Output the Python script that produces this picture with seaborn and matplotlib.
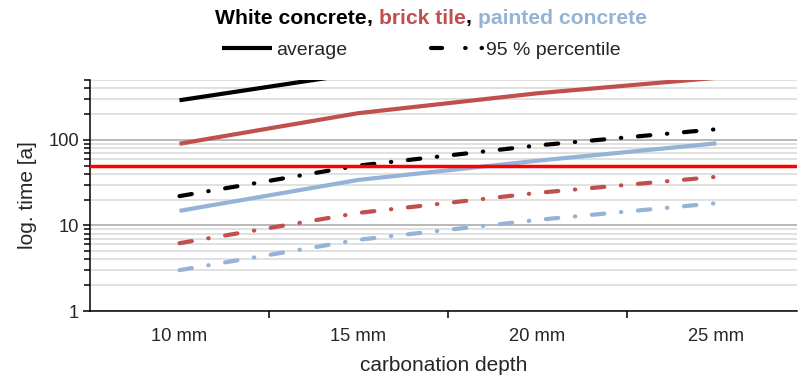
import numpy as np
import pandas as pd
import seaborn as sns
import matplotlib
matplotlib.use("Agg")
import matplotlib.pyplot as plt
from matplotlib.ticker import LogLocator, NullFormatter, FixedLocator, FixedFormatter
from matplotlib.lines import Line2D

# ---- data ----
depths = ["10 mm", "15 mm", "20 mm", "25 mm"]
white_avg = [290, 600, 1100, 1800]
white_p95 = [22, 50, 86, 133]
brick_avg = [90, 205, 350, 530]
brick_p95 = [6.2, 14, 24, 37]
painted_avg = [14.8, 34, 57, 91]
painted_p95 = [3.0, 6.8, 11.6, 18.2]
limit_value = 50

title_parts = ["White concrete", ", ", "brick tile", ", ", "painted concrete"]
title_colors = ["black", "black", "#C0504D", "black", "#95B3D7"]
legend_labels = ["average", "95 % percentile"]
xlabel = "carbonation depth"
ylabel = "log. time [a]"

sns.set_style("white")
plt.rcParams["font.family"] = ["Liberation Sans", "DejaVu Sans"]
plt.rcParams["lines.scale_dashes"] = False

fig = plt.figure(figsize=(7.99, 3.76), dpi=100)
ax = fig.add_axes([90 / 799, 1 - 311 / 376, 707 / 799, 231 / 376])

series = [
    (white_avg, "black", "solid"),
    (brick_avg, "#C0504D", "solid"),
    (painted_avg, "#95B3D7", "solid"),
    (white_p95, "black", "dashdot"),
    (brick_p95, "#C0504D", "dashdot"),
    (painted_p95, "#95B3D7", "dashdot"),
]
dashpat = (9, 12, 0.3, 12)
for vals, col, st in series:
    df = pd.DataFrame({"depth": depths, "time": vals})
    sns.lineplot(data=df, x="depth", y="time", ax=ax, color=col, linewidth=3, sort=False)
    line = ax.lines[-1]
    line.set_solid_capstyle("butt")
    if st == "dashdot":
        line.set_dashes(dashpat)
        line.set_dash_capstyle("round")

ax.axhline(limit_value, color="#FF0000", linewidth=2.5, zorder=3)

ax.set_yscale("log")
ax.set_ylim(1, 500)
ax.set_xlim(-0.5, 3.45)

ax.yaxis.set_major_locator(FixedLocator([1, 10, 100]))
ax.yaxis.set_major_formatter(FixedFormatter(["1", "10", "100"]))
ax.yaxis.set_minor_locator(LogLocator(base=10, subs=np.arange(2, 10), numticks=20))
ax.yaxis.set_minor_formatter(NullFormatter())
ax.grid(True, which="major", axis="y", color="#A6A6A6", linewidth=1.1, zorder=0)
ax.grid(True, which="minor", axis="y", color="#D9D9D9", linewidth=1.1, zorder=0)
ax.set_axisbelow(True)

ax.set_xticks([0, 1, 2, 3])
ax.set_xticklabels(depths)
ax.set_xticks([0.5, 1.5, 2.5], minor=True)
ax.tick_params(axis="x", which="major", length=0, pad=12, labelsize=13.2)
ax.tick_params(axis="x", which="minor", length=5, width=1.1, color="black", direction="out", bottom=True)
ax.tick_params(axis="y", which="major", length=5, width=1.1, color="black", direction="out", left=True,
               labelsize=13.2, pad=3)
ax.tick_params(axis="y", which="minor", length=4, width=1.1, color="black", direction="out", left=True)

for s in ["top", "right"]:
    ax.spines[s].set_visible(False)
for s in ["left", "bottom"]:
    ax.spines[s].set_color("black")
    ax.spines[s].set_linewidth(1.1)

ax.set_xlabel(xlabel, fontsize=15, labelpad=8)
ax.set_ylabel(ylabel, fontsize=15, labelpad=8)

# legend
h1 = Line2D([], [], color="black", linewidth=3, solid_capstyle="butt")
h2 = Line2D([], [], color="black", linewidth=3, dashes=(8, 16.6, 0.3, 11.5, 0.3, 20),
            dash_capstyle="round")
fig.legend([h1, h2], legend_labels, loc="center", bbox_to_anchor=(421 / 799, 1 - 50 / 376),
           ncol=2, frameon=False, fontsize=14, handlelength=2.6, handletextpad=0.2,
           columnspacing=4.3)

# multi-coloured title
fig.canvas.draw()
renderer = fig.canvas.get_renderer()
texts = []
for part, col in zip(title_parts, title_colors):
    t = fig.text(0, 1 - 18 / 376, part, color=col, fontsize=15.2, fontweight="bold", va="center", ha="left")
    texts.append(t)
widths = [t.get_window_extent(renderer).width for t in texts]
total = sum(widths)
x0 = 431 - total / 2
for t, w in zip(texts, widths):
    t.set_x(x0 / 799)
    x0 += w

fig.savefig("out.png", dpi=100)
